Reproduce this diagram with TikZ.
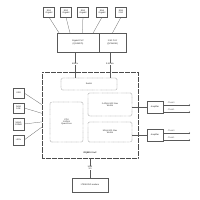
\documentclass[tikz,border=0pt]{standalone}
\usepackage{fontspec}
\setmainfont{Liberation Sans}
\usetikzlibrary{positioning,calc}
\begin{document}
\begin{tikzpicture}[x=0.05cm, y=-0.05cm,
  font=\fontsize{3}{3.4}\selectfont, line width=0.35pt, draw=black!65, text=black!85,
  box/.style={draw=black!65, fill=white, align=center, inner sep=0pt},
  dbox/.style={draw=black!60, dash pattern=on 1pt off 0.8pt, rounded corners=2pt, align=center, inner sep=0pt},
  lbl/.style={fill=white, inner sep=0.5pt, font=\fontsize{3}{3.4}\selectfont\bfseries, align=center}
]
  \useasboundingbox (0,0) rectangle (200,200);

  % Ethernet ports
  \node[box, minimum width=0.55cm, minimum height=0.5cm] (eth1) at (49,12) {Eth1\\Gigabit};
  \node[box, minimum width=0.55cm, minimum height=0.5cm] (eth2) at (66,12) {Eth2\\Gigabit};
  \node[box, minimum width=0.55cm, minimum height=0.5cm] (eth3) at (83,12) {Eth3\\Gigabit};
  \node[box, minimum width=0.55cm, minimum height=0.5cm] (eth4) at (102,12) {Eth4\\Gigabit};
  \node[box, minimum width=0.55cm, minimum height=0.5cm] (eth5) at (121,12) {Eth5\\2.5G};

  % PHYs
  \node[box, minimum width=2.1cm, minimum height=0.95cm] (gphy) at (78,42.5) {Gigabit PHY\\(QCA8075)};
  \node[box, minimum width=1.35cm, minimum height=0.95cm] (xphy) at (112.5,42.5) {2.5G PHY\\(QCA8081)};

  \draw[black!65] (eth1.south) -- ($(gphy.north west)!.05!(gphy.north east)$);
  \draw[black!65] (eth2.south) -- ($(gphy.north west)!.31!(gphy.north east)$);
  \draw[black!65] (eth3.south) -- ($(gphy.north west)!.6!(gphy.north east)$);
  \draw[black!65] (eth4.south) -- ($(gphy.north west)!.86!(gphy.north east)$);
  \draw[black!65] (eth5.south) -- (xphy.north);

  % SoC
  \node[draw=black!70, line width=0.55pt, dash pattern=on 0.8pt off 0.9pt, minimum width=4.8cm, minimum height=4.3cm] (soc) at (90,115) {};
  \node[lbl, fill=none] (soclbl) at (90,153) {IPQ8010 SoC};

  \node[dbox, minimum width=2.8cm, minimum height=0.6cm] (sw) at (89,84) {Switch};
  \node[dbox, minimum width=1.65cm, minimum height=2cm] (cpu) at (66.5,122) {CPU\\1.8GHz\\Quad-Core};
  \node[dbox, minimum width=2.2cm, minimum height=1.15cm] (wlan24) at (110,104.5) {2.4GHz 802.11ac\\WLAN};
  \node[dbox, minimum width=2.2cm, minimum height=1cm] (wlan5) at (110,132) {5GHz 802.11ac\\WLAN};

  % PHY to switch links
  \coordinate (g4) at ($(gphy.south west)!.43!(gphy.south east)$);
  \coordinate (x25) at ([xshift=-0.125cm]xphy.south);
  \draw[black!65] (g4) -- (g4 |- sw.north) node[lbl, pos=0.45] {4Gb/s};
  \draw[black!65] (x25) -- (x25 |- sw.north) node[lbl, pos=0.45] {2.5Gb/s};

  % Peripherals
  \node[box, minimum width=0.55cm, minimum height=0.5cm] (usb) at (18.5,93) {USB};
  \node[box, minimum width=0.55cm, minimum height=0.5cm] (ram) at (18.5,108) {RAM\\1GB};
  \node[box, minimum width=0.55cm, minimum height=0.6cm] (nand) at (18.5,124) {NAND\\128MB};
  \node[box, minimum width=0.55cm, minimum height=0.5cm] (leds) at (18.5,140) {LEDs};

  \draw[black!65] (usb.east) -- ($(soc.north west)!.38!(soc.south west)$);
  \draw[black!65] (ram.east) -- ($(soc.north west)!.48!(soc.south west)$);
  \draw[black!65] (nand.east) -- ($(soc.north west)!.58!(soc.south west)$);
  \draw[black!65] (leds.east) -- ($(soc.north west)!.64!(soc.south west)$);

  % Amplifiers
  \node[box, minimum width=0.8cm, minimum height=0.6cm] (amp1) at (155,107) {Amplifier};
  \node[box, minimum width=0.8cm, minimum height=0.6cm] (amp2) at (155,135) {Amplifier};

  \draw[black!65] (amp1.west -| wlan24.east) -- (amp1.west);
  \draw[black!65] (amp2.west -| wlan5.east) -- (amp2.west);

  \draw[black!65, ->] ([yshift=0.1cm]amp1.east) -- ++(27,0) node[pos=0.3, above=-1pt] {Chain0};
  \draw[black!65, ->] ([yshift=-0.25cm]amp1.east) -- ++(27,0) node[pos=0.3, above=-1pt] {Chain1};
  \draw[black!65, ->] ([yshift=0.1cm]amp2.east) -- ++(27,0) node[pos=0.3, above=-1pt] {Chain0};
  \draw[black!65, ->] ([yshift=-0.25cm]amp2.east) -- ++(27,0) node[pos=0.3, above=-1pt] {Chain1};

  % Modem
  \node[box, minimum width=1.8cm, minimum height=0.7cm] (lte) at (90,185) {LTE/4G/5G modem};
  \draw[black!65] (soc.south) -- (lte.north) node[lbl, midway] {USB\\3.0};
\end{tikzpicture}
\end{document}
